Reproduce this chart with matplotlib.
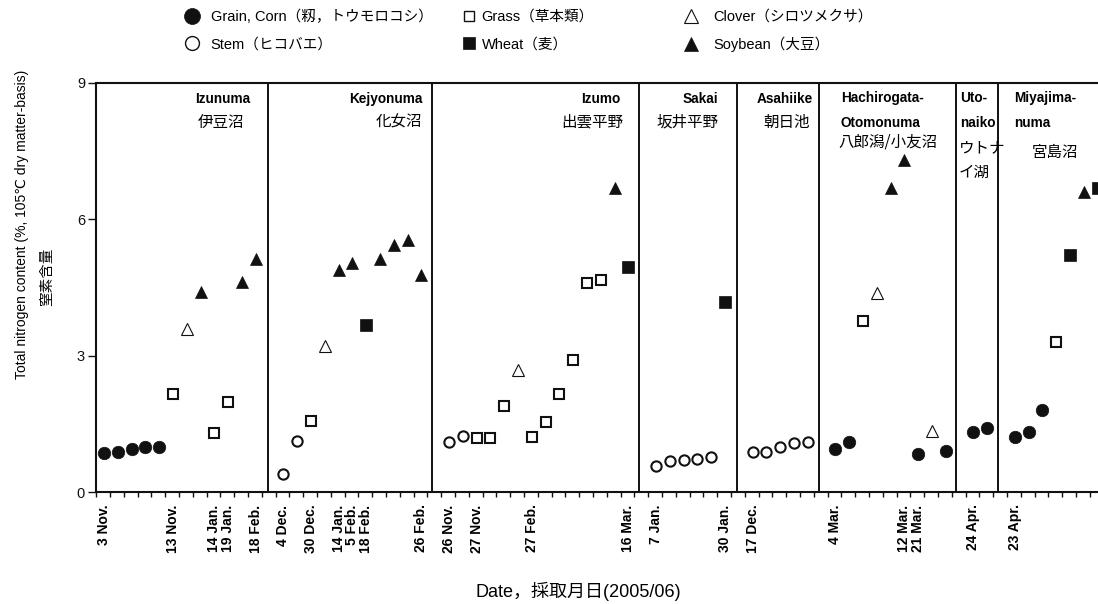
import numpy as np
import matplotlib
matplotlib.use('Agg')
import matplotlib.pyplot as plt
from matplotlib.lines import Line2D
from matplotlib.font_manager import FontProperties

W, H = 1098, 604

# ---- data: slot index along the date axis, total N content (%) ----
grain_x = [0, 1, 2, 3, 4, 53, 54, 59, 61, 63, 64, 66, 67, 68]
grain_y = [0.86, 0.89, 0.95, 0.98, 1.00, 0.95, 1.09, 0.84, 0.91, 1.31, 1.40, 1.20, 1.31, 1.80]
stem_x = [13, 14, 25, 26, 40, 41, 42, 43, 44, 47, 48, 49, 50, 51]
stem_y = [0.39, 1.13, 1.11, 1.23, 0.58, 0.68, 0.70, 0.72, 0.76, 0.88, 0.89, 0.98, 1.08, 1.11]
grass_x = [5, 8, 9, 15, 27, 28, 29, 31, 32, 33, 34, 35, 36, 55, 69]
grass_y = [2.15, 1.29, 1.97, 1.56, 1.18, 1.18, 1.89, 1.20, 1.54, 2.15, 2.90, 4.59, 4.66, 3.77, 3.31]
clover_x = [6, 16, 30, 56, 60]
clover_y = [3.58, 3.21, 2.68, 4.37, 1.35]
wheat_x = [19, 38, 45, 70, 72]
wheat_y = [3.68, 4.96, 4.17, 5.22, 6.70]
soy_x = [7, 10, 11, 17, 18, 20, 21, 22, 23, 37, 57, 58, 71]
soy_y = [4.39, 4.62, 5.13, 4.89, 5.05, 5.13, 5.44, 5.55, 4.78, 6.70, 6.68, 7.30, 6.61]

date_pos = [0, 5, 8, 9, 11, 13, 15, 17, 18, 19, 23, 25, 27, 31, 38, 40, 45, 47, 53, 58, 59, 63, 66]
date_labels = ['3 Nov.', '13 Nov.', '14 Jan.', '19 Jan.', '18 Feb.', '4 Dec.', '30 Dec.',
               '14 Jan.', '5 Feb.', '18 Feb.', '26 Feb.', '26 Nov.', '27 Nov.', '27 Feb.',
               '16 Mar.', '7 Jan.', '30 Jan.', '17 Dec.', '4 Mar.', '12 Mar.', '21 Mar.',
               '24 Apr.', '23 Apr.']
site_bounds = [11.91, 23.75, 38.79, 45.85, 51.83, 61.74, 64.80]
y_ticks = [0, 3, 6, 9]

legend_labels = ['Grain, Corn（籾，トウモロコシ）', 'Stem（ヒコバエ）', 'Grass（草本類）',
                 'Wheat（麦）', 'Clover（シロツメクサ）', 'Soybean（大豆）']

LAT = ['Liberation Sans', 'DejaVu Sans', 'Noto Sans CJK JP']
JP = ['Noto Sans CJK JP', 'Liberation Sans']

fig = plt.figure(figsize=(W / 100, H / 100), dpi=100)
x_min, x_max = -0.565, 72.6
px_per = 13.8
left_px = 96.2
ax = fig.add_axes([left_px / W, (H - 492) / H, (x_max - x_min) * px_per / W, 409 / H])

ink = '#111111'
ax.plot(grain_x, grain_y, 'o', ms=9.0, mfc=ink, mec=ink, mew=0.5, ls='none', zorder=5)
ax.plot(stem_x, stem_y, 'o', ms=7.4, mfc='white', mec=ink, mew=1.5, ls='none', zorder=5)
ax.plot(grass_x, grass_y, 's', ms=7.2, mfc='white', mec=ink, mew=1.5, ls='none', zorder=5)
ax.plot(clover_x, clover_y, '^', ms=8.8, mfc='white', mec=ink, mew=0.8, ls='none', zorder=5)
ax.plot(wheat_x, wheat_y, 's', ms=9.0, mfc=ink, mec=ink, mew=0.5, ls='none', zorder=5)
ax.plot(soy_x, soy_y, '^', ms=9.0, mfc=ink, mec=ink, mew=0.5, ls='none', zorder=5)

for b in site_bounds:
    ax.axvline(b, color=ink, lw=1.4, zorder=3)

ax.set_xlim(x_min, x_max)
ax.set_ylim(0, 9)
for s in ['left', 'top', 'bottom']:
    ax.spines[s].set_linewidth(1.5)
    ax.spines[s].set_color(ink)
ax.spines['right'].set_visible(False)

ax.set_yticks(y_ticks)
ax.set_yticklabels([str(v) for v in y_ticks], family=LAT, fontsize=10.5)
ax.tick_params(axis='y', direction='out', length=6, width=1.0, pad=2, colors=ink)

ax.set_xticks(date_pos)
ax.set_xticklabels(date_labels, rotation=90, family=LAT, fontsize=10, fontweight='bold')
ax.tick_params(axis='x', which='major', length=0, pad=9.0)
ax.set_xticks(np.arange(x_min, x_max, 1.0), minor=True)
ax.tick_params(axis='x', which='minor', direction='out', length=3.5, width=1.0, colors=ink)


def ftext(xp, yp, s, **kw):
    return fig.text(xp / W, 1 - yp / H, s, **kw)


# site labels
bold = dict(family=LAT, fontsize=9.8, fontweight='bold', va='center')
jpk = dict(family=JP, fontsize=11.2, va='center')
ftext(250.7, 99, 'Izunuma', ha='right', **bold)
ftext(244, 122, '伊豆沼', ha='right', **jpk)
ftext(422.7, 99, 'Kejyonuma', ha='right', **bold)
ftext(421.7, 122, '化女沼', ha='right', **jpk)
ftext(620, 99, 'Izumo', ha='right', **bold)
ftext(623, 122, '出雲平野', ha='right', **jpk)
ftext(717.7, 99, 'Sakai', ha='right', **bold)
ftext(718.3, 122, '坂井平野', ha='right', **jpk)
ftext(812.7, 99, 'Asahiike', ha='right', **bold)
ftext(810, 122, '朝日池', ha='right', **jpk)
ftext(840.7, 98, 'Hachirogata-', ha='left', **bold)
ftext(840.7, 123, 'Otomonuma', ha='left', **bold)
ftext(888, 142, '八郎潟/小友沼', ha='center', **jpk)
ftext(960, 98, 'Uto-', ha='left', **bold)
ftext(960, 123, 'naiko', ha='left', **bold)
ftext(958.5, 148, 'ウトナ', ha='left', **jpk)
ftext(958.5, 172, 'イ湖', ha='left', **jpk)
ftext(1014, 98, 'Miyajima-', ha='left', **bold)
ftext(1014, 123, 'numa', ha='left', **bold)
ftext(1055, 152, '宮島沼', ha='center', **jpk)

# axis titles
ftext(578.5, 591, 'Date，採取月日(2005/06)', ha='center', va='center', family=LAT, fontsize=13)
ftext(22, 224, 'Total nitrogen content (%, 105℃ dry matter-basis)', rotation=90,
      ha='center', va='center', family=LAT, fontsize=10)
ftext(47, 277, '窒素含量', rotation=90, ha='center', va='center', family=JP, fontsize=10.5)

# legend (one entry per key, placed in a 3 x 2 grid)
handles = [
    Line2D([], [], marker='o', ls='none', ms=11.5, mfc=ink, mec=ink, mew=0.5),
    Line2D([], [], marker='o', ls='none', ms=10.0, mfc='white', mec=ink, mew=1.0),
    Line2D([], [], marker='s', ls='none', ms=6.5, mfc='white', mec=ink, mew=1.0),
    Line2D([], [], marker='s', ls='none', ms=8.4, mfc=ink, mec=ink, mew=0.5),
    Line2D([], [], marker='^', ls='none', ms=9.5, mfc='white', mec=ink, mew=0.8),
    Line2D([], [], marker='^', ls='none', ms=9.5, mfc=ink, mec=ink, mew=0.5),
]
leg_size = 10.5
fs_px = leg_size * 100 / 72
key_x = [192, 192, 469, 469, 690.5, 690.5]
key_y = [16.7, 44.5, 16.7, 44.5, 16.7, 44.5]
text_x = [210.7, 210.7, 481.7, 481.7, 713, 713]
prop = FontProperties(family=LAT, size=leg_size)
for h, lab, kx, ky, tx in zip(handles, legend_labels, key_x, key_y, text_x):
    anchor = kx - fs_px / 2
    pad = (tx - anchor - fs_px) / fs_px
    fig.legend(handles=[h], labels=[lab], loc='center left',
               bbox_to_anchor=(anchor / W, 1 - ky / H), frameon=False,
               borderpad=0, borderaxespad=0, handlelength=1.0, handletextpad=pad,
               numpoints=1, prop=prop)

fig.savefig('out.png', dpi=100)
